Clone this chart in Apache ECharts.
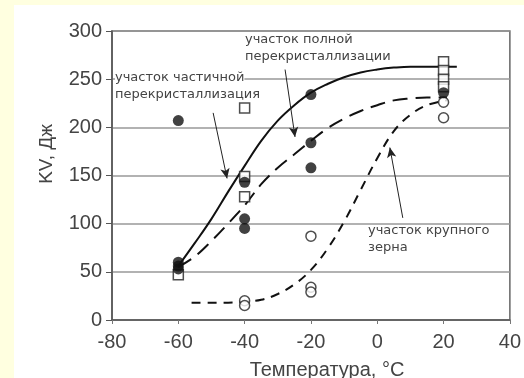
<!DOCTYPE html>
<html lang="ru" style="height: 100%">
<head>
  <meta charset="utf-8">
</head>
<body style="height: 100%; margin: 0; background: #ffffe0">
  <div id="container" style="position: absolute; left: 14px; top: 5px; right: 0; bottom: 0; background: #fff"></div>

  <script type="text/javascript" src="https://cdn.jsdelivr.net/npm/echarts@6/dist/echarts.min.js"></script>
  <script type="text/javascript">
// кривые
var curveFull = [[-60, 56], [-55, 80], [-50, 105], [-45, 133], [-40, 160], [-35, 186], [-30, 207], [-25, 223],
  [-20, 236], [-15, 245], [-10, 252], [-5, 257], [0, 260], [5, 262], [10, 263], [15, 263], [20, 263], [24, 263]];
var curvePartial = [[-60, 55], [-55, 66], [-50, 82], [-45, 100], [-40, 119], [-35, 141], [-30, 158], [-25, 172],
  [-20, 186], [-15, 199], [-10, 209], [-5, 217], [0, 223], [5, 228], [10, 230], [15, 231], [21, 231]];
var curveCoarse = [[-56, 18], [-50, 18], [-45, 18], [-40, 19], [-35, 21], [-30, 27], [-25, 37], [-20, 52],
  [-15, 74], [-10, 102], [-5, 135], [0, 168], [5, 196], [10, 213], [15, 223], [21, 228]];

// точки
var dotsFilled = [[-60, 207], [-60, 60], [-60, 56], [-60, 53], [-40, 143], [-40, 105], [-40, 95],
  [-20, 234], [-20, 184], [-20, 158], [20, 236]];
var dotsSquare = [[-60, 47], [-40, 220], [-40, 149], [-40, 128], [20, 268], [20, 259], [20, 250], [20, 242]];
var dotsOpen = [[-40, 20], [-40, 15], [-20, 87], [-20, 34], [-20, 29], [20, 226], [20, 210]];

var xTicks = { min: -80, max: 40, step: 20 };
var yTicks = { min: 0, max: 300, step: 50 };

// подписи и стрелки
var notes = [
  { text: 'участок полной', at: [-39.9, 291] },
  { text: 'перекристаллизации', at: [-39.9, 273] },
  { text: 'участок частичной', at: [-79.1, 252], bg: true },
  { text: 'перекристаллизация', at: [-79.1, 234] },
  { text: 'участок крупного', at: [-2.8, 93] },
  { text: 'зерна', at: [-2.8, 75] }
];
var arrows = [
  [[-49.5, 215], [-45.3, 147]],
  [[-27.8, 260], [-24.8, 190]],
  [[7.7, 106], [3.8, 179]]
];

var dom = document.getElementById('container');
var myChart = echarts.init(dom, null, { renderer: 'canvas' });

var lineBase = function (data, dash) {
  return {
    type: 'line',
    data: data,
    smooth: 0.4,
    showSymbol: false,
    z: 2,
    lineStyle: { color: '#111', width: 2, type: dash }
  };
};

var solid = lineBase(curveFull, 'solid');
solid.markLine = {
  silent: true,
  symbol: ['none', 'arrow'],
  symbolSize: [7, 10],
  label: { show: false },
  lineStyle: { color: '#222', width: 1, type: 'solid' },
  data: arrows.map(function (a) {
    return [{ coord: a[0] }, { coord: a[1] }];
  })
};

var option = {
  animation: false,
  grid: {
    left: 98, right: 14, top: 26, bottom: 58,
    show: true, borderColor: '#666', borderWidth: 1.5
  },
  xAxis: {
    type: 'value',
    min: xTicks.min, max: xTicks.max, interval: xTicks.step,
    axisLine: { onZero: false, lineStyle: { color: '#555', width: 1.5 } },
    axisTick: { length: 4, lineStyle: { color: '#777' } },
    splitLine: { show: false },
    axisLabel: { fontFamily: 'Liberation Sans', fontSize: 20, color: '#444', margin: 12 }
  },
  yAxis: {
    type: 'value',
    min: yTicks.min, max: yTicks.max, interval: yTicks.step,
    axisLine: { show: true, onZero: false, lineStyle: { color: '#555', width: 1.5 } },
    axisTick: { show: true, length: 6, lineStyle: { color: '#555' } },
    splitLine: { lineStyle: { color: '#999', width: 1.5 } },
    axisLabel: { fontFamily: 'Liberation Sans', fontSize: 20, color: '#444', margin: 10 }
  },
  series: [
    solid,
    lineBase(curvePartial, [15, 8]),
    lineBase(curveCoarse, [9, 7]),
    {
      type: 'scatter', data: dotsSquare, symbol: 'rect', symbolSize: 10, z: 3,
      itemStyle: { color: '#fff', borderColor: '#222', borderWidth: 1.5 }
    },
    {
      type: 'scatter', data: dotsOpen, symbol: 'circle', symbolSize: 10, z: 3,
      itemStyle: { color: '#fff', borderColor: '#222', borderWidth: 1.5 }
    },
    {
      type: 'scatter', data: dotsFilled, symbol: 'circle', symbolSize: 11, z: 4,
      itemStyle: { color: '#111' }
    }
  ]
};

myChart.setOption(option);

// подписи осей и пояснения
var g = notes.map(function (n) {
  var p = myChart.convertToPixel({ gridIndex: 0 }, n.at);
  return {
    type: 'text', x: p[0], y: p[1], z: 10,
    style: {
      text: n.text, fill: '#444', font: '13px "DejaVu Sans"',
      verticalAlign: 'middle',
      backgroundColor: n.bg ? '#fff' : null
    }
  };
});
g.push({
  type: 'text', x: 33, y: 149, rotation: Math.PI / 2, z: 10,
  style: { text: 'KV, Дж', fill: '#444', font: '19px "Liberation Sans"', align: 'center', verticalAlign: 'middle' }
});
g.push({
  type: 'text', x: 313, y: 365, z: 10,
  style: { text: 'Температура, °C', fill: '#444', font: '20px "Liberation Sans"', align: 'center', verticalAlign: 'middle' }
});
myChart.setOption({ graphic: g });

window.addEventListener('resize', myChart.resize);
  </script>
</body>
</html>
